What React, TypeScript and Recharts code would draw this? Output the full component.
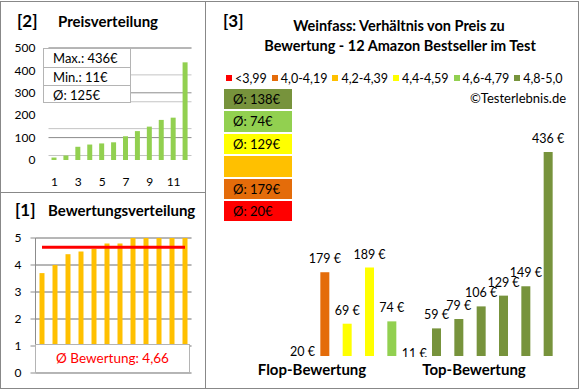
import React from "react";
import {
  BarChart,
  Bar,
  XAxis,
  YAxis,
  CartesianGrid,
  Cell,
  ComposedChart,
  Line,
  LabelList,
} from "recharts";

// [2] Preisverteilung (sortiert)
const productNr = ["1", "2", "3", "4", "5", "6", "7", "8", "9", "10", "11", "12"];
const sortedPrices = [11, 20, 59, 69, 74, 79, 106, 129, 149, 179, 189, 436];
const priceInfo = ["Max.: 436€", "Min.: 11€", "Ø: 125€"];
const priceTicks = [0, 100, 200, 300, 400, 500];

// [1] Bewertungsverteilung
const ratings = [3.7, 4.0, 4.4, 4.5, 4.6, 4.8, 4.8, 5.0, 5.0, 5.0, 5.0, 5.0];
const avgRating = 4.66;
const ratingTicks = [0, 1, 2, 3, 4, 5];

// [3] Preis zu Bewertung
const ratingBins = ["<3,99", "4,0-4,19", "4,2-4,39", "4,4-4,59", "4,6-4,79", "4,8-5,0"];
const binColors = ["#FF0000", "#E46C0A", "#FFC000", "#FFFF00", "#92D050", "#77933C"];
const binAverages = ["Ø: 20€", "Ø: 179€", "", "Ø: 129€", "Ø: 74€", "Ø: 138€"];
const testPrices = [20, 179, 69, 189, 74, 11, 59, 79, 106, 129, 149, 436];
const testRatings = [3.7, 4.0, 4.4, 4.5, 4.6, 4.8, 4.8, 5.0, 5.0, 5.0, 5.0, 5.0];
const hiddenBars = [0, 5];
const groupNames = ["Flop-Bewertung", "Top-Bewertung"];

const FONT = "Lato, 'Open Sans', sans-serif";

const binOf = (r: number) => {
  if (r < 3.995) return 0;
  if (r < 4.195) return 1;
  if (r < 4.395) return 2;
  if (r < 4.595) return 3;
  if (r < 4.795) return 4;
  return 5;
};

const priceData = productNr.map((nr, i) => ({ nr, price: sortedPrices[i] }));
const ratingData = productNr.map((nr, i) => ({ nr, rating: ratings[i], avg: avgRating }));
const testData = testPrices.map((p, i) => ({ name: String(i + 1), price: p, rating: testRatings[i] }));

const minorPrice = Array.from({ length: 26 }, (_, i) => i * 20);
const minorRating = Array.from({ length: 26 }, (_, i) => Math.round(i * 2) / 10);

// text helper, y = vertical centre
const T = ({ x, y, size = 13, bold = false, color = "#000", center = false, children }: any) => (
  <div
    style={{
      position: "absolute",
      left: x,
      top: y - size * 0.6,
      lineHeight: `${size * 1.2}px`,
      fontSize: size,
      fontWeight: bold ? 700 : 400,
      color,
      fontFamily: FONT,
      whiteSpace: "nowrap",
      transform: center ? "translateX(-50%)" : undefined,
    }}
  >
    {children}
  </div>
);

const renderPriceLabel = (props: any) => {
  const { x, y, width, height, value, index } = props;
  const cx = x + width / 2;
  const ty = hiddenBars.includes(index) ? y + height + (index === 5 ? 2 : 0) : y - 9;
  return (
    <text x={cx} y={ty} textAnchor="middle" fontSize={12.5} fontFamily={FONT} fill="#000">
      {value} €
    </text>
  );
};

export default function App() {
  return (
    <div
      style={{
        position: "absolute",
        left: 0,
        top: 0,
        width: 580,
        height: 390,
        background: "#fff",
        fontFamily: FONT,
        overflow: "hidden",
      }}
    >
      {/* [2] Preisverteilung */}
      <T x={17} y={21} size={17} bold>[2]</T>
      <T x={58} y={21} size={15} bold>Preisverteilung</T>
      <div style={{ position: "absolute", left: 0, top: 0 }}>
        <BarChart width={205} height={192} data={priceData} margin={{ top: 48, right: 13.5, bottom: 2, left: 0 }}>
          <CartesianGrid vertical={false} horizontalValues={minorPrice} stroke="#c4c4c4" />
          <CartesianGrid vertical={false} horizontalValues={priceTicks} stroke="#8c8c8c" />
          <XAxis
            dataKey="nr"
            height={30}
            interval={1}
            axisLine={false}
            tickLine={false}
            tickSize={0}
            tickMargin={17}
            tick={{ fontSize: 12, fill: "#000", fontFamily: FONT }}
          />
          <YAxis
            width={48.5}
            domain={[0, 500]}
            ticks={priceTicks}
            axisLine={false}
            tickLine={false}
            tickSize={0}
            tickMargin={13}
            tick={{ fontSize: 12, fill: "#000", fontFamily: FONT }}
          />
          <Bar dataKey="price" fill="#92D050" barSize={5} isAnimationActive={false} />
        </BarChart>
      </div>
      <div
        style={{
          position: "absolute",
          left: 43,
          top: 48,
          width: 88,
          height: 55,
          background: "#fff",
          border: "1px solid #b4b4b4",
          boxSizing: "border-box",
        }}
      >
        {priceInfo.map((t, i) => (
          <div
            key={t}
            style={{
              height: 18,
              lineHeight: "18px",
              fontSize: 13,
              paddingLeft: 9,
              borderTop: i > 0 ? "1px solid #b4b4b4" : "none",
              boxSizing: "border-box",
              fontFamily: FONT,
            }}
          >
            {t}
          </div>
        ))}
      </div>

      {/* [1] Bewertungsverteilung */}
      <T x={15} y={210} size={17} bold>[1]</T>
      <T x={48} y={210} size={15} bold>Bewertungsverteilung</T>
      <div style={{ position: "absolute", left: 0, top: 192 }}>
        <ComposedChart width={205} height={196} data={ratingData} margin={{ top: 46, right: 13.5, bottom: 15, left: 0 }}>
          <CartesianGrid vertical={false} horizontalValues={minorRating} stroke="#c4c4c4" />
          <CartesianGrid vertical={false} horizontalValues={ratingTicks} stroke="#8c8c8c" />
          <XAxis dataKey="nr" hide />
          <YAxis
            width={35.5}
            domain={[0, 5]}
            ticks={ratingTicks}
            axisLine={{ stroke: "#8c8c8c" }}
            tickLine={{ stroke: "#8c8c8c" }}
            tickSize={5}
            tickMargin={9}
            tick={{ fontSize: 12, fill: "#000", fontFamily: FONT }}
          />
          <Bar dataKey="rating" fill="#FFC000" barSize={5} isAnimationActive={false} />
          <Line dataKey="avg" stroke="#FF0000" strokeWidth={3} dot={false} type="linear" isAnimationActive={false} />
        </ComposedChart>
      </div>
      <div
        style={{
          position: "absolute",
          left: 35,
          top: 344,
          width: 155,
          height: 29,
          background: "#fff",
          border: "1px solid #b4b4b4",
          boxSizing: "border-box",
          textAlign: "center",
          lineHeight: "27px",
          fontSize: 13.5,
          color: "#FF0000",
          fontFamily: FONT,
        }}
      >
        Ø Bewertung: {String(avgRating).replace(".", ",")}
      </div>

      {/* [3] Verhältnis Preis zu Bewertung */}
      <T x={223} y={21} size={17} bold>[3]</T>
      <T x={399} y={26} size={14.5} bold center>Weinfass: Verhältnis von Preis zu</T>
      <T x={400} y={46} size={14.5} bold center>Bewertung - 12 Amazon Bestseller im Test</T>
      <div
        style={{
          position: "absolute",
          left: 226,
          top: 70,
          height: 16,
          display: "flex",
          alignItems: "center",
          gap: 5,
          fontSize: 12.5,
          fontFamily: FONT,
          whiteSpace: "nowrap",
        }}
      >
        {ratingBins.map((b, i) => (
          <div key={b} style={{ display: "flex", alignItems: "center", gap: 3 }}>
            <div style={{ width: 6, height: 6, background: binColors[i] }} />
            <span>{b}</span>
          </div>
        ))}
      </div>
      <T x={470} y={99} size={13}>©Testerlebnis.de</T>

      <div style={{ position: "absolute", left: 224, top: 89, display: "flex", flexDirection: "column", gap: 2 }}>
        {binAverages
          .map((t, i) => ({ t, c: binColors[i] }))
          .reverse()
          .map((b, i) => (
            <div
              key={i}
              style={{
                width: 68,
                height: 20.4,
                background: b.c,
                fontSize: 13,
                lineHeight: "20.4px",
                paddingLeft: 9,
                boxSizing: "border-box",
                fontFamily: FONT,
              }}
            >
              {b.t}
            </div>
          ))}
      </div>

      <div style={{ position: "absolute", left: 205, top: 0 }}>
        <BarChart width={373} height={388} data={testData} margin={{ top: 122, right: 19, bottom: 32, left: 86 }}>
          <XAxis dataKey="name" hide />
          <YAxis hide domain={[0, 500]} />
          <Bar dataKey="price" barSize={9} isAnimationActive={false}>
            {testData.map((d, i) => (
              <Cell key={i} fill={binColors[binOf(d.rating)]} fillOpacity={hiddenBars.includes(i) ? 0 : 1} />
            ))}
            <LabelList dataKey="price" content={renderPriceLabel} />
          </Bar>
        </BarChart>
      </div>
      {/* the 11 € label sits half under the plot bottom */}
      <div style={{ position: "absolute", left: 400, top: 357, width: 30, height: 6, background: "#fff" }} />
      <T x={312} y={369} size={15} bold center>{groupNames[0]}</T>
      <T x={474} y={369} size={15} bold center>{groupNames[1]}</T>

      {/* frames */}
      <div style={{ position: "absolute", left: 0, top: 1, width: 579, height: 388, border: "1px solid #888", boxSizing: "border-box" }} />
      <div style={{ position: "absolute", left: 0, top: 192, width: 205, height: 1, background: "#888" }} />
      <div style={{ position: "absolute", left: 205, top: 1, width: 1, height: 388, background: "#888" }} />
    </div>
  );
}
